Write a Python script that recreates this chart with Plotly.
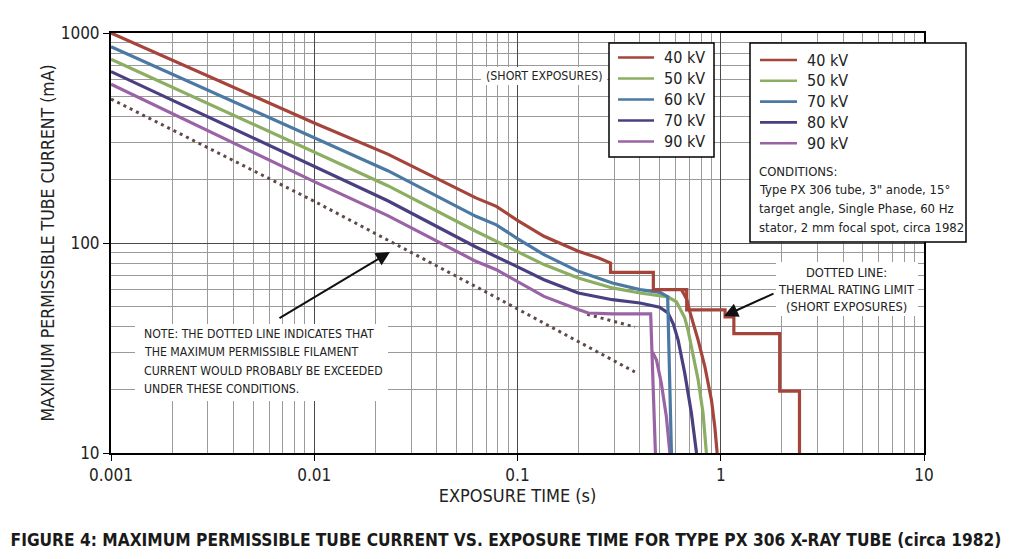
import plotly.graph_objects as go

# values: exposure time (s) and tube current (mA)
t_40 = [0.001, 0.01, 0.023, 0.0624, 0.0787, 0.099, 0.135, 0.199, 0.251, 0.287, 0.287,
        0.466, 0.466, 0.68, 0.68, 1.05, 1.05, 1.16, 1.16, 1.95, 1.95, 2.44, 2.44]
ma_40 = [1000, 373, 265, 164, 149.5, 129, 107.6, 91.3, 84.8, 80.3, 72.5,
         72.5, 60, 60, 48, 48, 44.5, 44.5, 37, 37, 19.7, 19.7, 10]
t_40_drop = [0.64, 0.68, 0.705, 0.774, 0.835, 0.90, 0.935, 0.96]
ma_40_drop = [60, 54, 47, 34.5, 25.8, 17.9, 13.3, 10]

t_50 = [0.001, 0.01, 0.023, 0.0624, 0.0787, 0.099, 0.135, 0.199, 0.293, 0.40, 0.502,
        0.551, 0.605, 0.64, 0.665, 0.69, 0.717, 0.774, 0.818, 0.85]
ma_50 = [750, 272, 187.5, 113.7, 101.8, 91.2, 78.9, 68.1, 61.1, 57.8, 56.1,
         55.3, 52.5, 47.5, 44, 38.5, 32, 22.3, 15.5, 10]

t_60 = [0.001, 0.01, 0.023, 0.0624, 0.0787, 0.099, 0.135, 0.199, 0.293, 0.40, 0.502, 0.548, 0.572]
ma_60 = [861, 315, 221, 134, 122, 105.6, 88, 73.3, 64.5, 60, 58.2, 55.5, 10]

t_70 = [0.001, 0.01, 0.023, 0.0624, 0.0787, 0.099, 0.135, 0.199, 0.293, 0.40, 0.50,
        0.55, 0.585, 0.617, 0.665, 0.717, 0.76]
ma_70 = [655, 231, 159, 95.7, 86.4, 77.4, 66.9, 57.8, 53.7, 51.8, 49.5,
         46.5, 41, 34.5, 24, 15.5, 10]

t_90 = [0.001, 0.01, 0.023, 0.0624, 0.0787, 0.099, 0.135, 0.199, 0.223, 0.293, 0.452, 0.477]
ma_90 = [570, 196, 135, 81.8, 74.6, 65.7, 55.7, 48.2, 46.4, 46, 46, 10]
t_90_branch = [0.461, 0.483, 0.51, 0.54, 0.562]
ma_90_branch = [30.3, 27.7, 21.5, 14.9, 10]

# dotted lines: filament limit and thermal rating limit
t_filament = [0.001, 0.01, 0.0624, 0.146, 0.378]
ma_filament = [485, 158, 62, 40, 24.3]
t_thermal = [0.22, 0.378]
ma_thermal = [45.8, 39.8]

x_tick_vals = [0.001, 0.01, 0.1, 1, 10]
x_tick_text = ["0.001", "0.01", "0.1", "1", "10"]
y_tick_vals = [10, 100, 1000]
y_tick_text = ["10", "100", "1000"]

legend_a_labels = ["40 kV", "50 kV", "60 kV", "70 kV", "90 kV"]
legend_b_labels = ["40 kV", "50 kV", "70 kV", "80 kV", "90 kV"]
conditions_lines = ["CONDITIONS:",
                    "Type PX 306 tube, 3\" anode, 15°",
                    "target angle, Single Phase, 60 Hz",
                    "stator, 2 mm focal spot, circa 1982"]
note_lines = ["NOTE: THE DOTTED LINE INDICATES THAT",
              "THE MAXIMUM PERMISSIBLE FILAMENT",
              "CURRENT WOULD PROBABLY BE EXCEEDED",
              "UNDER THESE CONDITIONS."]
thermal_lines = ["DOTTED LINE:", "THERMAL RATING LIMIT", "(SHORT EXPOSURES)"]

FONT = "DejaVu Sans Condensed, Liberation Sans Narrow, Arial Narrow, sans-serif"
RED = "#a5443b"
GREEN = "#8bae62"
BLUE = "#4b79a3"
NAVY = "#4a3f80"
PURPLE = "#9963a5"
DOT = "#5e4a46"
legend_colors = [RED, GREEN, BLUE, NAVY, PURPLE]

# page is offset by the 8px body margin; plot area in page pixels
OFF = 8
FW, FH = 1024 - OFF, 559 - OFF
L, R, T, B = 111, 924, 33, 453


def px(x):
    return (x - L) / (R - L)


def py(y):
    return (B - y) / (B - T)


fig = go.Figure()


def add_line(t, ma, color, width=3.2, dash=None):
    fig.add_trace(go.Scatter(x=t, y=ma, mode="lines",
                             line=dict(color=color, width=width, dash=dash),
                             showlegend=False))


add_line(t_filament, ma_filament, DOT, width=3, dash="3px,4px")
add_line(t_thermal, ma_thermal, DOT, width=3, dash="3px,4px")
add_line(t_90, ma_90, PURPLE)
add_line(t_90_branch, ma_90_branch, PURPLE)
add_line(t_70, ma_70, NAVY)
add_line(t_50, ma_50, GREEN)
add_line(t_60, ma_60, BLUE)
add_line(t_40_drop, ma_40_drop, RED)
add_line(t_40, ma_40, RED)

minor_x = [k * 10.0 ** e for e in range(-3, 1) for k in range(2, 10)]
minor_y = [k * 10.0 ** e for e in range(1, 3) for k in range(2, 10)]

axis_common = dict(
    type="log", showgrid=True, gridcolor="#4a4a4a", gridwidth=1.3,
    ticks="outside", ticklen=6, tickcolor="black", tickwidth=1.2,
    showline=True, linecolor="black", linewidth=2, mirror=True,
    tickfont=dict(family=FONT, size=17, color="#222"),
    zeroline=False,
)

fig.update_xaxes(
    range=[-3, 1], tickvals=x_tick_vals, ticktext=x_tick_text,
    minor=dict(tickvals=minor_x, showgrid=True, gridcolor="#9a9a9a", gridwidth=1, ticks=""),
    title=dict(text="EXPOSURE TIME (s)", font=dict(family=FONT, size=18, color="#222"), standoff=4),
    **axis_common,
)
fig.update_yaxes(
    range=[1, 3], tickvals=y_tick_vals, ticktext=y_tick_text,
    minor=dict(tickvals=minor_y, showgrid=True, gridcolor="#9a9a9a", gridwidth=1, ticks=""),
    title=dict(text="MAXIMUM PERMISSIBLE TUBE CURRENT (mA)",
               font=dict(family=FONT, size=17.5, color="#222"), standoff=2),
    **axis_common,
)

shapes = []
annotations = []


def label(x, y, text, size, anchor="left", **kw):
    annotations.append(dict(xref="paper", yref="paper", x=px(x), y=py(y),
                            xanchor=anchor, yanchor="middle", showarrow=False, text=text,
                            font=dict(family=FONT, size=size, color="#222"), **kw))


def white_box(x0, x1, y0, y1, border=None):
    shapes.append(dict(type="rect", xref="paper", yref="paper", layer="above",
                       x0=px(x0), x1=px(x1), y0=py(y1), y1=py(y0), fillcolor="white",
                       line=dict(color=border or "white", width=1.5 if border else 0)))


# legend box A
white_box(609, 714, 43, 157, border="black")
for i, (lab, col) in enumerate(zip(legend_a_labels, legend_colors)):
    yy = 57.5 + i * 21
    shapes.append(dict(type="line", xref="paper", yref="paper", layer="above",
                       x0=px(618), x1=px(654), y0=py(yy), y1=py(yy),
                       line=dict(color=col, width=2.6)))
    label(662, yy, lab, 16)

# legend box B with conditions
white_box(750, 966, 43, 242, border="black")
for i, (lab, col) in enumerate(zip(legend_b_labels, legend_colors)):
    yy = 60 + i * 20.8
    shapes.append(dict(type="line", xref="paper", yref="paper", layer="above",
                       x0=px(760), x1=px(797), y0=py(yy), y1=py(yy),
                       line=dict(color=col, width=2.6)))
    label(805, yy, lab, 16)
for i, line in enumerate(conditions_lines):
    label(757, 171 + i * 18.8, line, 13)

# text notes on white patches that break the grid
white_box(481, 607, 67, 85)
label(544, 76, "(SHORT EXPOSURES)", 12.3, anchor="center")

white_box(135, 388, 324, 401)
for i, line in enumerate(note_lines):
    label(142, 334 + i * 18.3, line, 12.2)

white_box(776, 918, 262, 316)
for i, line in enumerate(thermal_lines):
    label(846, 272 + i * 17, line, 12.8, anchor="center")

# arrows
annotations.append(dict(xref="paper", yref="paper", x=px(390), y=py(252), text="",
                        showarrow=True, ax=278 - 390, ay=319 - 252,
                        arrowhead=2, arrowsize=1.4, arrowwidth=2, arrowcolor="#111"))
annotations.append(dict(xref="paper", yref="paper", x=px(724), y=py(316), text="",
                        showarrow=True, ax=775 - 724, ay=293 - 316,
                        arrowhead=2, arrowsize=1.4, arrowwidth=2, arrowcolor="#111"))

fig.update_layout(
    width=FW, height=FH,
    margin=dict(l=L - OFF, r=1024 - R, t=T - OFF, b=559 - B),
    paper_bgcolor="white", plot_bgcolor="white",
    font=dict(family=FONT, color="#222"),
    showlegend=False,
    shapes=shapes,
    annotations=annotations,
    title=dict(text="<b>FIGURE 4: MAXIMUM PERMISSIBLE TUBE CURRENT VS. EXPOSURE TIME FOR TYPE PX 306 X-RAY TUBE (circa 1982)</b>",
               x=(506 - OFF) / FW, xanchor="center", y=1 - (540 - OFF) / FH, yanchor="middle",
               font=dict(family=FONT, size=17.2, color="#1a1a1a")),
)

fig.write_html("out.html")
